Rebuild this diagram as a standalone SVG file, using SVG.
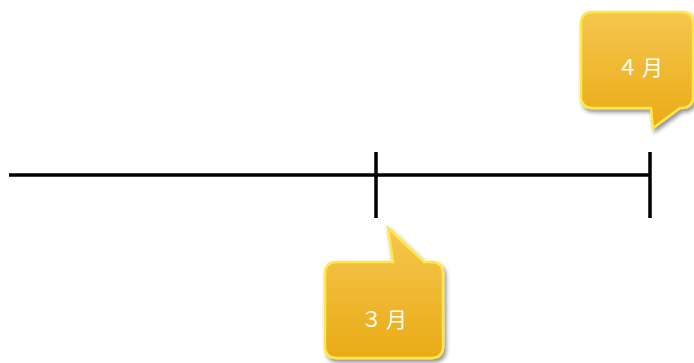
<svg xmlns="http://www.w3.org/2000/svg" width="694" height="363" viewBox="0 0 694 363">
<defs>
<linearGradient id="g" x1="0" y1="0" x2="0" y2="1">
<stop offset="0" stop-color="#f5c64e"/>
<stop offset="1" stop-color="#eaab17"/>
</linearGradient>
<filter id="sh" x="-20%" y="-20%" width="140%" height="140%">
<feGaussianBlur in="SourceAlpha" stdDeviation="2"/>
<feOffset dx="2" dy="3" result="b"/>
<feComponentTransfer><feFuncA type="linear" slope="0.45"/></feComponentTransfer>
<feMerge><feMergeNode/><feMergeNode in="SourceGraphic"/></feMerge>
</filter>
</defs>
<style>
.bub{fill:url(#g);stroke:#ffe64a;stroke-width:2.5;filter:url(#sh)}
.lbl{fill:#ffffff;font-family:"Liberation Serif","Noto Sans CJK JP",serif;font-size:21px;letter-spacing:4px;text-anchor:middle}
.ln{stroke:#000;stroke-width:3.5;fill:none}
</style>
<g id="connectors">
<line class="ln" x1="9" y1="175" x2="650" y2="175"/>
<line class="ln" x1="376" y1="152" x2="376" y2="218"/>
<line class="ln" x1="650" y1="152" x2="650" y2="218"/>
</g>
<g id="node-apr">
<path class="bub" d="M593,12 H681 Q693,12 693,24 V96 Q693,108 681,108 H680 L653,128 L651,108 H593 Q581,108 581,96 V24 Q581,12 593,12 Z"/>
<text class="lbl" x="642" y="75">４月</text>
</g>
<g id="node-mar">
<path class="bub" d="M337,262 H393 L388,228 L424,262 H431 Q443,262 443,274 V346 Q443,358 431,358 H337 Q325,358 325,346 V274 Q325,262 337,262 Z"/>
<text class="lbl" x="386" y="327">３月</text>
</g>
</svg>
